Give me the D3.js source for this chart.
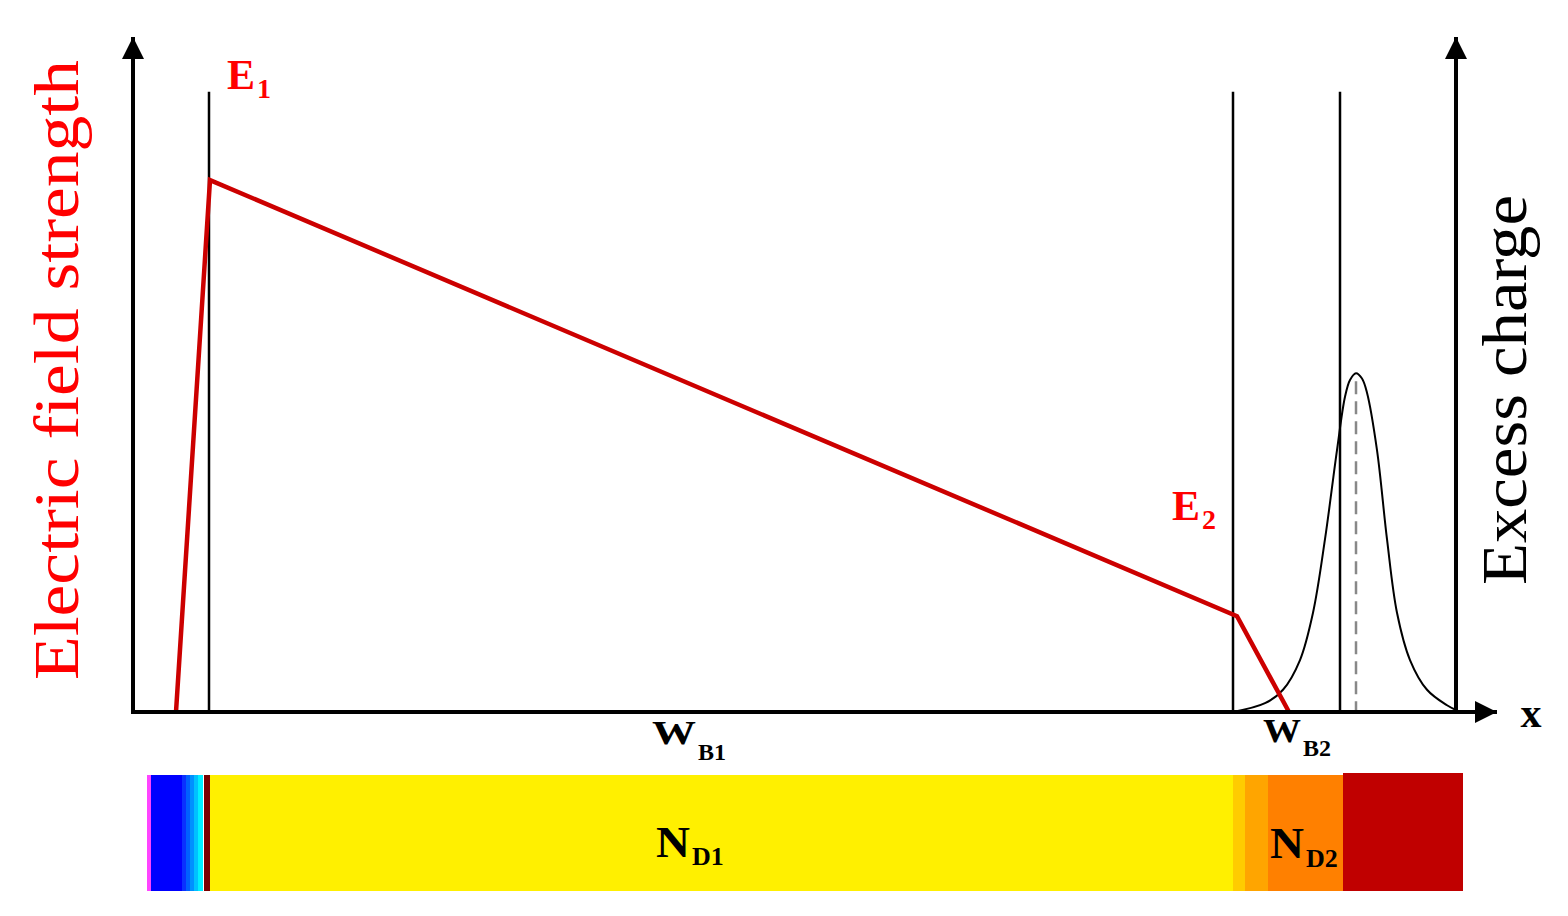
<!DOCTYPE html>
<html>
<head>
<meta charset="utf-8">
<script src="https://cdn.jsdelivr.net/npm/d3@7"></script>
<style>
  html, body { margin: 0; padding: 0; background: #fff; }
  svg { display: block; }
</style>
</head>
<body>
<svg id="chart" width="1568" height="916"></svg>
<script>
// Electric field profile (depth, field), arbitrary units
var fieldX = [4.3, 7.7, 110.4, 115.6];
var fieldY = [0, 78.8, 14.2, 0];

// Excess charge profile
var chargeX = [110.0, 113.2, 115.0, 116.7, 118.0, 119.2, 120.4, 121.2, 121.7, 122.3, 122.9, 123.4, 124.4, 125.4, 126.4, 127.7, 129.4, 131.4, 132.3];
var chargeY = [0, 1.3, 3.3, 7.7, 14.7, 25.6, 38.8, 46.7, 49.2, 50.2, 49.4, 47.3, 38.8, 25.6, 14.7, 7.7, 3.3, 1.0, 0.3];
var chargePeakX = 122.3;

// Boundary markers
var boundaryX = [7.6, 110.0, 120.7];
var boundaryTop = 91.9;

// Doping bar segments (start, end, colour)
var segStart = [1.4, 1.8, 4.9, 5.3, 5.7, 6.1, 6.5, 7.1, 7.7, 110.0, 111.2, 113.5, 121.0];
var segEnd   = [1.8, 4.9, 5.3, 5.7, 6.1, 6.5, 7.0, 7.7, 110.0, 111.2, 113.5, 121.0, 133.0];
var segColor = ["#ff44ff", "#0000ff", "#0a30ff", "#0060ff", "#0090ff", "#00c0ff", "#00f0ff", "#7a0000", "#fff000", "#ffcc00", "#ffa500", "#ff8000", "#c00000"];

var svg = d3.select("#chart");

var x = d3.scaleLinear().domain([0, 132.3]).range([133, 1456]);
var y = d3.scaleLinear().domain([0, 100]).range([712, 37]);

var serif = "'Liberation Serif', 'Times New Roman', serif";

// arrow head
svg.append("defs").append("marker")
    .attr("id", "arrow")
    .attr("viewBox", "0 0 10 10")
    .attr("refX", 10).attr("refY", 5)
    .attr("markerWidth", 5.5).attr("markerHeight", 5.5)
    .attr("markerUnits", "strokeWidth")
    .attr("orient", "auto")
    .append("path")
    .attr("d", "M0,0 L10,5 L0,10 Z")
    .attr("fill", "#000");

// boundary lines
svg.selectAll("line.bound")
    .data(boundaryX)
    .enter().append("line")
    .attr("class", "bound")
    .attr("x1", d => x(d)).attr("x2", d => x(d))
    .attr("y1", y(0)).attr("y2", y(boundaryTop))
    .attr("stroke", "#000").attr("stroke-width", 2.5);

// excess charge curve
var chargeData = chargeX.map((d, i) => ({x: d, y: chargeY[i]}));
svg.append("path")
    .datum(chargeData)
    .attr("fill", "none")
    .attr("stroke", "#000")
    .attr("stroke-width", 2)
    .attr("d", d3.line().x(d => x(d.x)).y(d => y(d.y)).curve(d3.curveCatmullRom));

svg.append("line")
    .attr("x1", x(chargePeakX)).attr("x2", x(chargePeakX))
    .attr("y1", y(d3.max(chargeY)) + 8).attr("y2", y(0))
    .attr("stroke", "#888").attr("stroke-width", 2.5)
    .attr("stroke-dasharray", "13,7");

// electric field
var fieldData = fieldX.map((d, i) => ({x: d, y: fieldY[i]}));
svg.append("path")
    .datum(fieldData)
    .attr("fill", "none")
    .attr("stroke", "#cc0000")
    .attr("stroke-width", 4.5)
    .attr("stroke-linejoin", "miter")
    .attr("d", d3.line().x(d => x(d.x)).y(d => y(d.y)));

// axes
svg.append("line")
    .attr("x1", x(0)).attr("y1", y(0)).attr("x2", x(0)).attr("y2", y(100))
    .attr("stroke", "#000").attr("stroke-width", 4).attr("marker-end", "url(#arrow)");
svg.append("line")
    .attr("x1", x(132.3)).attr("y1", y(0)).attr("x2", x(132.3)).attr("y2", y(100))
    .attr("stroke", "#000").attr("stroke-width", 4).attr("marker-end", "url(#arrow)");
svg.append("line")
    .attr("x1", x(0) - 2).attr("y1", y(0)).attr("x2", 1497).attr("y2", y(0))
    .attr("stroke", "#000").attr("stroke-width", 4).attr("marker-end", "url(#arrow)");

// doping bar
svg.selectAll("rect.seg")
    .data(segStart)
    .enter().append("rect")
    .attr("class", "seg")
    .attr("x", d => x(d))
    .attr("width", (d, i) => x(segEnd[i]) - x(d))
    .attr("y", (d, i) => i === segStart.length - 1 ? 773 : 775)
    .attr("height", (d, i) => i === segStart.length - 1 ? 118 : 116)
    .attr("fill", (d, i) => segColor[i]);

// labels
function subLabel(px, py, main, sub, size, subSize, dy, color, mainLen) {
    var t = svg.append("text")
        .attr("x", px).attr("y", py)
        .attr("font-family", serif)
        .attr("font-weight", "bold")
        .attr("fill", color);
    var m = t.append("tspan").attr("font-size", size).text(main);
    if (mainLen) m.attr("textLength", mainLen).attr("lengthAdjust", "spacingAndGlyphs");
    t.append("tspan").attr("font-size", subSize).attr("dy", dy).attr("dx", 2).text(sub);
}

subLabel(227, 89, "E", "1", 42, 28, 9, "#ff0000");
subLabel(1172, 520, "E", "2", 42, 28, 9, "#ff0000");
subLabel(652, 744, "W", "B1", 33, 24, 16, "#000", 44);
subLabel(1263, 742, "W", "B2", 33, 24, 14, "#000", 38);
subLabel(656, 857, "N", "D1", 44, 26, 8, "#000", 34);
subLabel(1270, 858, "N", "D2", 44, 26, 9, "#000", 34);

svg.append("text")
    .attr("x", 1531).attr("y", 727)
    .attr("text-anchor", "middle")
    .attr("font-family", serif)
    .attr("font-weight", "bold")
    .attr("font-size", 42)
    .text("x");

svg.append("text")
    .attr("transform", "translate(78,370) rotate(-90)")
    .attr("text-anchor", "middle")
    .attr("font-family", serif)
    .attr("font-size", 64)
    .attr("fill", "#ff0000")
    .attr("textLength", 620).attr("lengthAdjust", "spacingAndGlyphs")
    .text("Electric field strength");

svg.append("text")
    .attr("transform", "translate(1526,390) rotate(-90)")
    .attr("text-anchor", "middle")
    .attr("font-family", serif)
    .attr("font-size", 64)
    .attr("fill", "#000")
    .attr("textLength", 390).attr("lengthAdjust", "spacingAndGlyphs")
    .text("Excess charge");
</script>
</body>
</html>
